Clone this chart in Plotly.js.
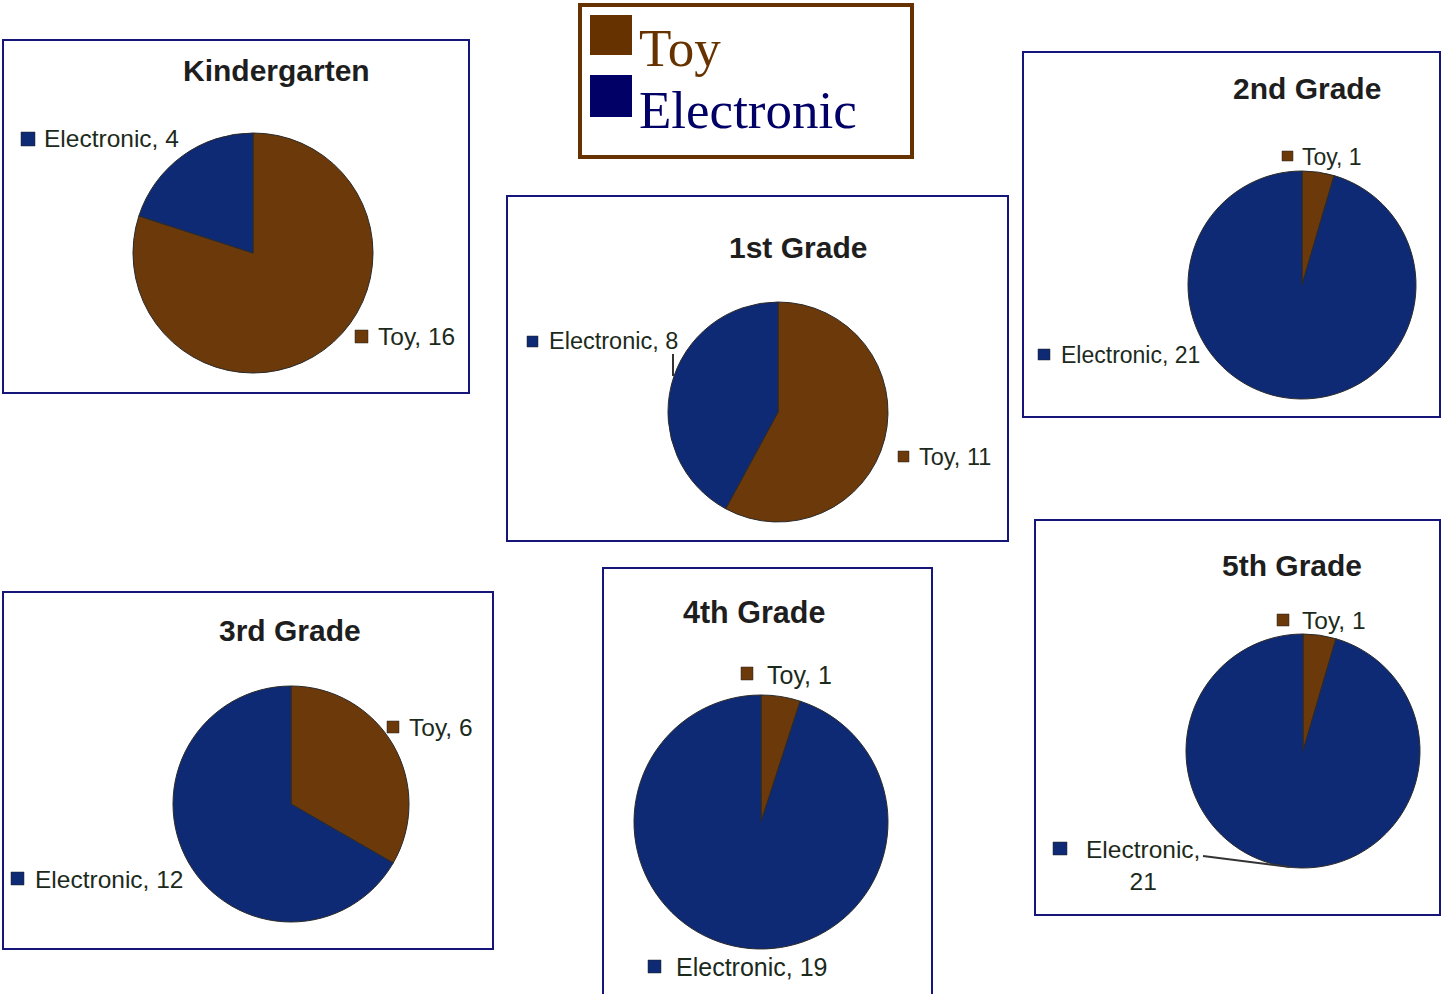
<!DOCTYPE html>
<html>
<head>
<meta charset="utf-8">
<script src="https://cdn.plot.ly/plotly-3.0.1.min.js"></script>
<style>html,body{margin:0;padding:0;background:#fff;}#chart{width:1448px;height:994px;}</style>
</head>
<body>
<div id="chart"></div>
<script>
// ---- data ----
const grades = ['Kindergarten', '1st Grade', '2nd Grade', '3rd Grade', '4th Grade', '5th Grade'];
const categories = ['Toy', 'Electronic'];
const toyCounts = [16, 11, 1, 6, 1, 1];
const electronicCounts = [4, 8, 21, 12, 19, 21];

// ---- styling / layout ----
const W = 1448, H = 994;
const px = x => x / W;
const py = y => 1 - y / H;
const pieColors = ['#6C390A', '#0F2A74'];
const legendColors = ['#663300', '#000066'];
const boxColor = '#16167A';
const labelColor = '#1C2A1C';
const titleColor = '#1E1E1E';

// panel geometry in pixels
const panels = [
  {box:[3,40,469,393], title:[276,70], pie:[253,253,120], fs:24.5, tfs:30,
   toy:{sq:[355,330,368,343], tx:378, ty:336}, ele:{sq:[21,132,35,146], tx:44, ty:139}},
  {box:[507,196,1008,541], title:[798,248], pie:[778,412,110], fs:23.5, tfs:30,
   toy:{sq:[898,451,909,462], tx:919, ty:457}, ele:{sq:[527,336,538,347], tx:549, ty:341},
   lead:[[673,354],[673,376]]},
  {box:[1023,52,1440,417], title:[1307,89], pie:[1302,285,114], fs:23, tfs:30,
   toy:{sq:[1282,151,1293,161], tx:1302, ty:157}, ele:{sq:[1038,349,1050,360], tx:1061, ty:355}},
  {box:[3,592,493,949], title:[290,630], pie:[291,804,118], fs:24.5, tfs:30,
   toy:{sq:[387,721,399,733], tx:409, ty:727}, ele:{sq:[11,872,24,885], tx:35, ty:879}},
  {box:[603,568,932,1010], title:[754,612], pie:[761,822,127], fs:25, tfs:30.5,
   toy:{sq:[741,667,753,680], tx:767, ty:675}, ele:{sq:[648,960,661,973], tx:676, ty:967}},
  {box:[1035,520,1440,915], title:[1292,565], pie:[1303,751,117], fs:24.5, tfs:30,
   toy:{sq:[1277,614,1289,626], tx:1302, ty:620}, ele:{sq:[1053,842,1067,855], tx:1086, ty:865, wrap:true},
   lead:[[1203,856],[1290,867]]}
];

const traces = [];
const shapes = [];
const annotations = [];

panels.forEach((p, i) => {
  const [cx, cy, r] = p.pie;
  traces.push({
    type: 'pie',
    labels: categories,
    values: [toyCounts[i], electronicCounts[i]],
    marker: {colors: pieColors, line: {color: '#2A2A2A', width: 1}},
    sort: false,
    direction: 'clockwise',
    rotation: 0,
    textinfo: 'none',
    hoverinfo: 'none',
    showlegend: false,
    domain: {x: [px(cx - r), px(cx + r)], y: [py(cy + r), py(cy - r)]}
  });
  const [x0, y0, x1, y1] = p.box;
  shapes.push({type:'rect', xref:'paper', yref:'paper', x0:px(x0), x1:px(x1), y0:py(y1), y1:py(y0),
    line:{color: boxColor, width: 2}, fillcolor:'rgba(0,0,0,0)', layer:'below'});
  annotations.push({xref:'paper', yref:'paper', x:px(p.title[0]), y:py(p.title[1]), xanchor:'center', yanchor:'middle',
    text:'<b>' + grades[i] + '</b>', showarrow:false,
    font:{family:'Liberation Sans, Arial, sans-serif', size:p.tfs, color:titleColor}});
  const vals = [toyCounts[i], electronicCounts[i]];
  [p.toy, p.ele].forEach((lab, k) => {
    const [sx0, sy0, sx1, sy1] = lab.sq;
    shapes.push({type:'rect', xref:'paper', yref:'paper', x0:px(sx0), x1:px(sx1), y0:py(sy1), y1:py(sy0),
      line:{color:'#222', width:0.5}, fillcolor: pieColors[k]});
    const txt = lab.wrap ? categories[k] + ',<br>' + vals[k] : categories[k] + ', ' + vals[k];
    annotations.push({xref:'paper', yref:'paper', x:px(lab.tx - 2), y:py(lab.ty), xanchor:'left', yanchor:'middle',
      align:'center', text: txt, showarrow:false,
      font:{family:'Liberation Sans, Arial, sans-serif', size:p.fs, color:labelColor}});
  });
  if (p.lead) {
    shapes.push({type:'line', xref:'paper', yref:'paper', x0:px(p.lead[0][0]), y0:py(p.lead[0][1]),
      x1:px(p.lead[1][0]), y1:py(p.lead[1][1]), line:{color:'#333', width:2}});
  }
});

// big legend box
shapes.push({type:'rect', xref:'paper', yref:'paper', x0:px(580), x1:px(912), y0:py(157), y1:py(5),
  line:{color: legendColors[0], width: 4}, fillcolor:'#fff'});
const legY = [[15,55],[75,117]];
const legTextY = [48, 110];
categories.forEach((c, k) => {
  shapes.push({type:'rect', xref:'paper', yref:'paper', x0:px(590), x1:px(632), y0:py(legY[k][1]), y1:py(legY[k][0]),
    line:{width:0}, fillcolor: legendColors[k]});
  annotations.push({xref:'paper', yref:'paper', x:px(637), y:py(legTextY[k]), xanchor:'left', yanchor:'middle',
    text:c, showarrow:false,
    font:{family:'Liberation Serif, Times New Roman, serif', size:53, color:legendColors[k]}});
});

const layout = {
  width: W, height: H,
  margin: {l:0, r:0, t:0, b:0},
  paper_bgcolor: '#fff',
  plot_bgcolor: '#fff',
  showlegend: false,
  shapes: shapes,
  annotations: annotations
};

Plotly.newPlot('chart', traces, layout, {displayModeBar:false, staticPlot:true});
</script>
</body>
</html>
